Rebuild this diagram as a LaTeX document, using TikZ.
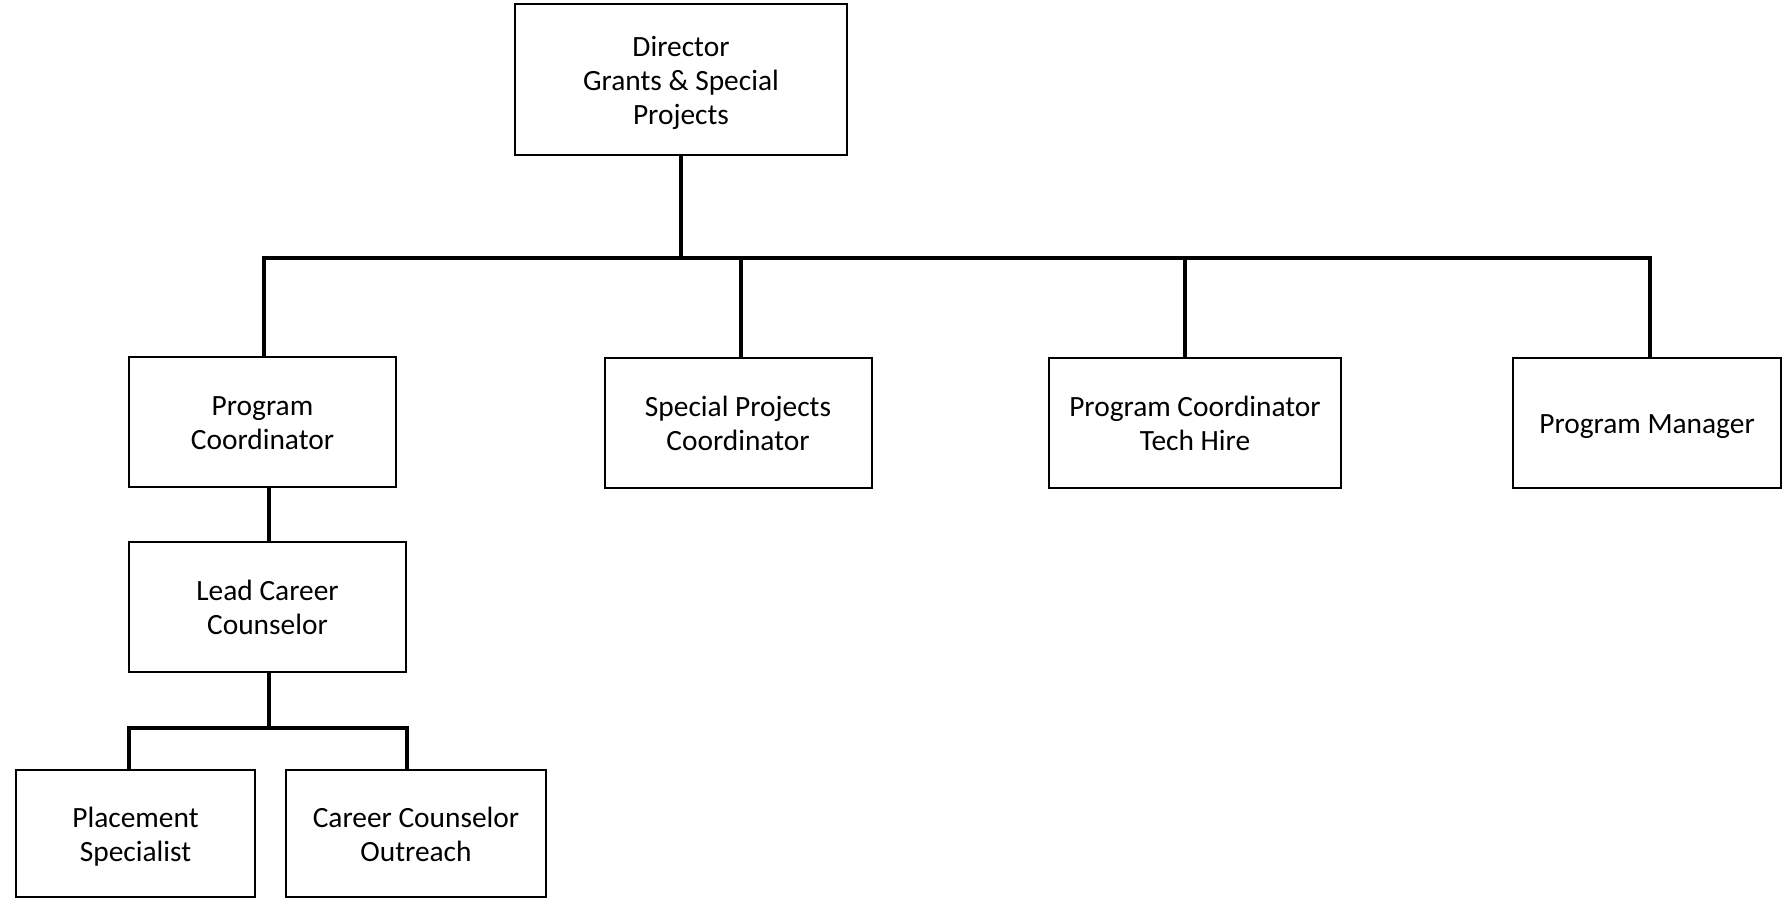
\documentclass[tikz,border=0pt]{standalone}
\usepackage{fontspec}
\setmainfont{Carlito}
\newcommand\ls{\rule[-3.5pt]{0pt}{17.8pt}}
\newcommand\boxfont{\fontsize{14.7}{17}\selectfont\lineskiplimit -100pt\relax}
\begin{document}
\begin{tikzpicture}[x=0.5pt,y=-0.5pt,
  box/.style={draw=black, line width=1pt, rectangle, align=center, inner sep=0pt,
    font=\boxfont},
  link/.style={draw=black, line width=1.6pt}]
\useasboundingbox (0,0) rectangle (1785,899);
\node[box, minimum width=166pt, minimum height=75.5pt] (dir) at (681,79.5) {\ls Director\\\ls Grants \& Special\\\ls Projects};
\node[box, minimum width=133.5pt, minimum height=65pt] (pc) at (262.5,422) {\ls Program\\\ls Coordinator};
\node[box, minimum width=133.5pt, minimum height=65pt] (spc) at (738,423) {\ls Special Projects\\\ls Coordinator};
\node[box, minimum width=146pt, minimum height=65pt] (th) at (1195,423) {\ls Program Coordinator\\\ls Tech Hire};
\node[box, minimum width=134pt, minimum height=65pt] (pm) at (1647,423) {\ls Program Manager};
\node[box, minimum width=138.5pt, minimum height=65pt] (lead) at (267.5,607) {\ls Lead Career\\\ls Counselor};
\node[box, minimum width=119.5pt, minimum height=63.5pt] (place) at (135.5,833.5) {\ls Placement\\\ls Specialist};
\node[box, minimum width=130pt, minimum height=63.5pt] (out) at (416,833.5) {\ls Career Counselor\\\ls Outreach};
% main bus
\coordinate (busmid) at (681,258);
\coordinate (bpc) at (264,258);
\coordinate (bspc) at (741,258);
\coordinate (bth) at (1185,258);
\coordinate (bpm) at (1650,258);
\draw[link] (dir.south) -- (busmid);
\draw[link, line cap=rect] (bpc) -- (bpm);
\draw[link] (bpc) -- (bpc |- pc.north);
\draw[link] (bspc) -- (bspc |- spc.north);
\draw[link] (bth) -- (bth |- th.north);
\draw[link] (bpm) -- (bpm |- pm.north);
% program coordinator to lead
\coordinate (pl) at (269,487);
\draw[link] (pl |- pc.south) -- (pl |- lead.north);
% lead to sub-bus
\coordinate (lm) at (269,728);
\coordinate (lb1) at (129,728);
\coordinate (lb2) at (407,728);
\draw[link] (lm |- lead.south) -- (lm);
\draw[link, line cap=rect] (lb1) -- (lb2);
\draw[link] (lb1) -- (lb1 |- place.north);
\draw[link] (lb2) -- (lb2 |- out.north);
\end{tikzpicture}
\end{document}
